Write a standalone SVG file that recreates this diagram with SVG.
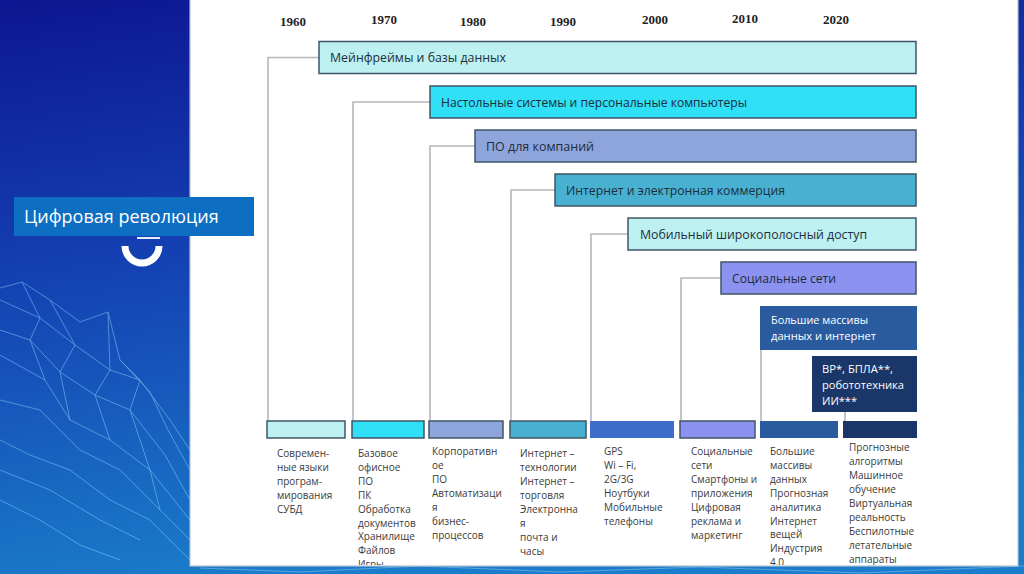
<svg xmlns="http://www.w3.org/2000/svg" width="1024" height="574" viewBox="0 0 1024 574">
<defs>
<linearGradient id="bg" x1="0" y1="0" x2="0.25" y2="1">
<stop offset="0" stop-color="#0d1690"/>
<stop offset="0.45" stop-color="#1440b2"/>
<stop offset="1" stop-color="#1a7cca"/>
</linearGradient>
<clipPath id="panelClip"><rect x="190" y="0" width="828" height="565"/></clipPath>
<style>
.yr{font-family:"Liberation Serif",serif;font-weight:bold;font-size:13px;fill:#222;text-anchor:middle}
.bar{stroke:#3f5566;stroke-width:1.5}
.bl{font-family:"Open Sans","DejaVu Sans",sans-serif;font-size:12px;fill:#1e2d3c}
.wl{font-family:"Open Sans","DejaVu Sans",sans-serif;font-size:10.5px;fill:#ffffff}
.col{font-family:"Open Sans","DejaVu Sans",sans-serif;font-size:10px;fill:#3a3a3a}
.con{fill:none;stroke:#b4b8bc;stroke-width:1.6}
.c1{fill:#bdf1f1}.c2{fill:#2fe0f6}.c3{fill:#8ea5dc}.c4{fill:#48b1d2}.c5{fill:#3c6dca}.c6{fill:#8b92ef}.c7{fill:#2b5b9f}.c8{fill:#1b3668}
.mesh{fill:none;stroke:#8fd8ff;stroke-width:0.8;opacity:0.6}
</style>
</defs>

<!-- background -->
<rect x="0" y="0" width="1024" height="574" fill="url(#bg)"/>
<g class="mesh">
<path d="M0 288 L22 282 L50 300 L80 322 L108 312 L120 360 L150 392 L168 430 L190 470"/>
<path d="M0 300 L40 318 L75 345 L110 370 L140 380 L170 420 L190 450"/>
<path d="M0 330 L30 340 L60 372 L95 395 L130 410 L165 455 L190 500"/>
<path d="M0 355 L45 380 L70 420 L110 440 L150 470 L190 520"/>
<path d="M22 282 L40 318 L30 340 L45 380"/>
<path d="M50 300 L75 345 L60 372 L70 420"/>
<path d="M108 312 L110 370 L95 395 L110 440"/>
<path d="M0 400 L40 410 L80 450 L120 470 L160 510 L190 540"/>
<path d="M0 440 L30 455 L70 470 L110 500 L150 520 L190 560"/>
<path d="M120 360 L140 380 L130 410 L150 470 L160 510"/>
<path d="M0 470 L50 490 L100 520 L140 540"/>
<path d="M0 500 L40 520 L80 545 L120 560"/>
<path d="M200 568 L300 572 L420 566 L560 572 L700 567 L860 573 L1024 566"/>
</g>

<g id="ring">
<path d="M125 246 A17 17 0 0 0 159 246" fill="none" stroke="#ffffff" stroke-width="7"/>
<line x1="137" y1="238" x2="160" y2="238" stroke="#e8eef8" stroke-width="2"/>
</g>

<!-- panel -->
<rect x="190" y="-2" width="828" height="568" fill="#ffffff" stroke="#b8c2cc" stroke-width="1.2"/>

<!-- left title (overlaps panel) -->
<g id="title">
<rect x="14" y="197" width="240" height="39" fill="#0e6ec2"/>
<text x="24" y="223" font-family="'Open Sans','DejaVu Sans',sans-serif" font-size="18" fill="#ffffff">Цифровая революция</text>
</g>

<g id="years">
<text class="yr" x="293" y="26">1960</text>
<text class="yr" x="384" y="24">1970</text>
<text class="yr" x="473" y="26">1980</text>
<text class="yr" x="563" y="26">1990</text>
<text class="yr" x="655" y="24">2000</text>
<text class="yr" x="745" y="23">2010</text>
<text class="yr" x="836" y="24">2020</text>
</g>

<g id="connectors">
<polyline class="con" points="319,57.5 268,57.5 268,421"/>
<polyline class="con" points="430,102 353,102 353,421"/>
<polyline class="con" points="475,146 430,146 430,421"/>
<polyline class="con" points="555,190 511,190 511,421"/>
<polyline class="con" points="628,234 591,234 591,421"/>
<polyline class="con" points="721,278 681,278 681,421"/>
<line class="con" x1="761" y1="350" x2="761" y2="421"/>
<line class="con" x1="845" y1="412" x2="845" y2="421"/>
</g>

<g id="bar-mainframes">
<rect class="bar c1" x="319" y="41.5" width="597" height="32"/>
<text class="bl" x="330" y="62" textLength="176" lengthAdjust="spacingAndGlyphs">Мейнфреймы и базы данных</text>
</g>
<g id="bar-desktop">
<rect class="bar c2" x="430" y="86" width="486" height="32"/>
<text class="bl" x="441" y="106.5" textLength="306" lengthAdjust="spacingAndGlyphs">Настольные системы и персональные компьютеры</text>
</g>
<g id="bar-enterprise">
<rect class="bar c3" x="475" y="130" width="441" height="32"/>
<text class="bl" x="486" y="150.5" textLength="108" lengthAdjust="spacingAndGlyphs">ПО для компаний</text>
</g>
<g id="bar-internet">
<rect class="bar c4" x="555" y="174" width="361" height="32"/>
<text class="bl" x="566" y="194.5" textLength="219" lengthAdjust="spacingAndGlyphs">Интернет и электронная коммерция</text>
</g>
<g id="bar-mobile">
<rect class="bar c1" x="628" y="218" width="288" height="32"/>
<text class="bl" x="640" y="238.5" textLength="227" lengthAdjust="spacingAndGlyphs">Мобильный широкополосный доступ</text>
</g>
<g id="bar-social">
<rect class="bar c6" x="721" y="262" width="195" height="32"/>
<text class="bl" x="732" y="282.5" textLength="104" lengthAdjust="spacingAndGlyphs">Социальные сети</text>
</g>
<g id="bar-bigdata">
<rect class="c7" x="760" y="306" width="157" height="44"/>
<text class="wl" x="771" y="324" textLength="97" lengthAdjust="spacingAndGlyphs">Большие массивы</text>
<text class="wl" x="771" y="340" textLength="105" lengthAdjust="spacingAndGlyphs">данных и интернет</text>
</g>
<g id="bar-vr">
<rect class="c8" x="812" y="356" width="105" height="56"/>
<text class="wl" x="822" y="373" textLength="71" lengthAdjust="spacingAndGlyphs">ВР*, БПЛА**,</text>
<text class="wl" x="822" y="389" textLength="82" lengthAdjust="spacingAndGlyphs">робототехника</text>
<text class="wl" x="822" y="405" textLength="35" lengthAdjust="spacingAndGlyphs">ИИ***</text>
</g>

<g id="boxes">
<rect class="bar c1" x="267" y="421" width="78" height="17"/>
<rect class="bar c2" x="352" y="421" width="72" height="17"/>
<rect class="bar c3" x="429" y="421" width="74" height="17"/>
<rect class="bar c4" x="510" y="421" width="76" height="17"/>
<rect class="c5" x="590" y="421" width="84" height="17"/>
<rect class="bar c6" x="680" y="421" width="75" height="17"/>
<rect class="c7" x="760" y="421" width="78" height="17"/>
<rect class="c8" x="843" y="421" width="74" height="17"/>
</g>

<g id="columns" clip-path="url(#panelClip)">
<text class="col" x="277" y="457"><tspan x="277">Современ-</tspan><tspan x="277" dy="14">ные языки</tspan><tspan x="277" dy="14">програм-</tspan><tspan x="277" dy="14">мирования</tspan><tspan x="277" dy="14">СУБД</tspan></text>
<text class="col" x="358" y="457"><tspan x="358">Базовое</tspan><tspan x="358" dy="13.9">офисное</tspan><tspan x="358" dy="13.9">ПО</tspan><tspan x="358" dy="13.9">ПК</tspan><tspan x="358" dy="13.9">Обработка</tspan><tspan x="358" dy="13.9">документов</tspan><tspan x="358" dy="13.9">Хранилище</tspan><tspan x="358" dy="13.9">Файлов</tspan><tspan x="358" dy="13.9">Игры</tspan></text>
<text class="col" x="432" y="455"><tspan x="432">Корпоративн</tspan><tspan x="432" dy="14">ое</tspan><tspan x="432" dy="14">ПО</tspan><tspan x="432" dy="14">Автоматизаци</tspan><tspan x="432" dy="14">я</tspan><tspan x="432" dy="14">бизнес-</tspan><tspan x="432" dy="14">процессов</tspan></text>
<text class="col" x="520" y="457"><tspan x="520">Интернет –</tspan><tspan x="520" dy="14">технологии</tspan><tspan x="520" dy="14">Интернет –</tspan><tspan x="520" dy="14">торговля</tspan><tspan x="520" dy="14">Электронна</tspan><tspan x="520" dy="14">я</tspan><tspan x="520" dy="14">почта и</tspan><tspan x="520" dy="14">часы</tspan></text>
<text class="col" x="604" y="455"><tspan x="604">GPS</tspan><tspan x="604" dy="14">Wi – Fi,</tspan><tspan x="604" dy="14">2G/3G</tspan><tspan x="604" dy="14">Ноутбуки</tspan><tspan x="604" dy="14">Мобильные</tspan><tspan x="604" dy="14">телефоны</tspan></text>
<text class="col" x="691" y="455"><tspan x="691">Социальные</tspan><tspan x="691" dy="14">сети</tspan><tspan x="691" dy="14">Смартфоны и</tspan><tspan x="691" dy="14">приложения</tspan><tspan x="691" dy="14">Цифровая</tspan><tspan x="691" dy="14">реклама и</tspan><tspan x="691" dy="14">маркетинг</tspan></text>
<text class="col" x="770" y="455"><tspan x="770">Большие</tspan><tspan x="770" dy="13.9">массивы</tspan><tspan x="770" dy="13.9">данных</tspan><tspan x="770" dy="13.9">Прогнозная</tspan><tspan x="770" dy="13.9">аналитика</tspan><tspan x="770" dy="13.9">Интернет</tspan><tspan x="770" dy="13.9">вещей</tspan><tspan x="770" dy="13.9">Индустрия</tspan><tspan x="770" dy="13.9">4.0</tspan></text>
<text class="col" x="849" y="451"><tspan x="849">Прогнозные</tspan><tspan x="849" dy="14">алгоритмы</tspan><tspan x="849" dy="14">Машинное</tspan><tspan x="849" dy="14">обучение</tspan><tspan x="849" dy="14">Виртуальная</tspan><tspan x="849" dy="14">реальность</tspan><tspan x="849" dy="14">Беспилотные</tspan><tspan x="849" dy="14">летательные</tspan><tspan x="849" dy="14">аппараты</tspan></text>
</g>
</svg>
